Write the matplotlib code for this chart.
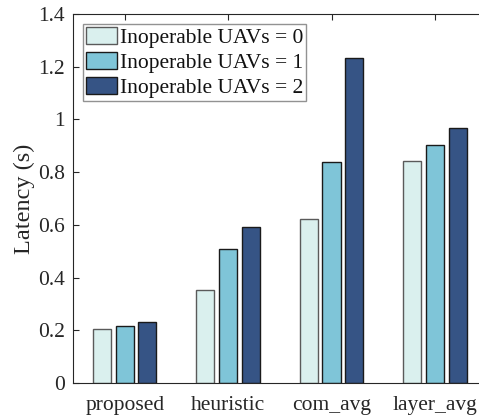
import matplotlib
matplotlib.use("Agg")
import matplotlib.pyplot as plt
import numpy as np

categories = ["proposed", "heuristic", "com_avg", "layer_avg"]
series_labels = ["Inoperable UAVs = 0", "Inoperable UAVs = 1", "Inoperable UAVs = 2"]
uav0 = [0.204, 0.352, 0.623, 0.843]
uav1 = [0.217, 0.507, 0.837, 0.902]
uav2 = [0.230, 0.592, 1.232, 0.969]
yticks = [0, 0.2, 0.4, 0.6, 0.8, 1, 1.2, 1.4]
ytick_labels = ["0", "0.2", "0.4", "0.6", "0.8", "1", "1.2", "1.4"]

colors = ["#DAF0EE", "#7FC5D8", "#365485"]
edges = ["#5a5a5a", "#1a1a1a", "#1a1a1a"]

plt.rcParams['font.family'] = ['Liberation Serif', 'DejaVu Serif']
plt.rcParams['mathtext.fontset'] = 'stix'

fig = plt.figure(figsize=(4.79, 4.19), dpi=100)
ax = fig.add_axes([73/479, 36/419, 413.6/479, 369/419])

x = np.arange(1, len(categories) + 1)
offsets = [-0.22, 0.0, 0.22]
width = 0.175
for vals, off, c, e, lab in zip([uav0, uav1, uav2], offsets, colors, edges, series_labels):
    ax.bar(x + off, vals, width=width, color=c, edgecolor=e, linewidth=1.0, label=lab, zorder=2)

ax.set_xlim(0.5, 4.5)
ax.set_ylim(0, 1.4)
ax.set_xticks(x)
ax.set_xticklabels(categories)
ax.set_yticks(yticks)
ax.set_yticklabels(ytick_labels)
ax.tick_params(direction='in', length=4, width=0.8, labelsize=15.5, colors='#262626',
               top=True, right=False, pad=6)
ax.tick_params(axis='x', pad=9)
for s in ['left', 'bottom', 'top']:
    ax.spines[s].set_color('#262626')
    ax.spines[s].set_linewidth(0.8)
ax.spines['right'].set_visible(False)

ax.set_ylabel("Latency (s)", fontsize=17.5, color='#262626')
ax.yaxis.set_label_coords(-0.093, 0.5)

leg = ax.legend(loc='upper left', fontsize=15.5, frameon=True, fancybox=False,
                handlelength=1.45, handleheight=0.85, handletextpad=0.12,
                labelspacing=0.18, borderpad=0.15, borderaxespad=0.45)
leg.get_frame().set_edgecolor('#777777')
leg.get_frame().set_linewidth(1.0)
for t in leg.get_texts():
    t.set_color('#111111')

fig.savefig("out.png", dpi=100)
